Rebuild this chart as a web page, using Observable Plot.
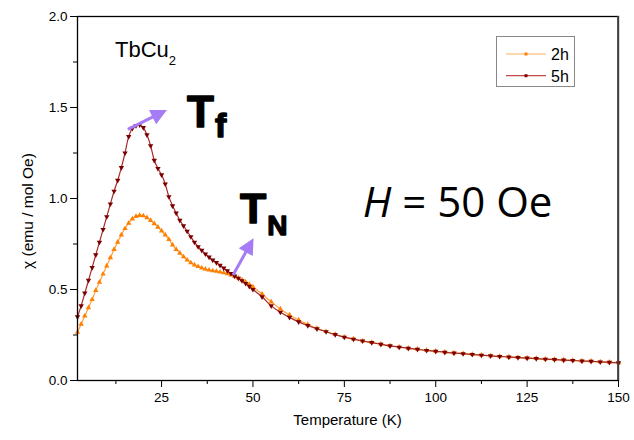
<!DOCTYPE html>
<html><head><meta charset="utf-8">
<script src="https://cdn.jsdelivr.net/npm/d3@7"></script>
<script src="https://cdn.jsdelivr.net/npm/@observablehq/plot@0.6"></script>
<style>
body{margin:0;background:#fff;}
#chart{width:634px;height:440px;}
</style></head><body><div id="chart"></div>
<script>
// Temperatures (K)
const temps = [2,3,4,5,6,7,8,9,10,11,12,13,14,15,16,17,18,19,20,21,22,23,24,25,26,27,28,29,30,31,32,33,34,35,36,37,38,39,40,41,42,43,44,45,46,47,48,49,50,
  52.5,55,57.5,60,62.5,65,67.5,70,72.5,75,77.5,80,82.5,85,87.5,90,92.5,95,97.5,100,102.5,105,107.5,110,112.5,115,117.5,120,122.5,125,127.5,130,132.5,135,137.5,140,142.5,145,147.5,150];
// chi (emu / mol Oe), 2h sample
const chi2h = [0.265,0.31,0.355,0.40,0.445,0.495,0.54,0.585,0.63,0.675,0.72,0.76,0.80,0.835,0.865,0.888,0.902,0.907,0.905,0.895,0.88,0.862,0.843,0.822,0.80,0.775,0.745,0.72,0.70,0.68,0.662,0.647,0.635,0.626,0.618,0.612,0.607,0.603,0.600,0.596,0.592,0.587,0.580,0.572,0.563,0.553,0.541,0.528,0.514,
  0.475,0.432,0.393,0.360,0.333,0.308,0.287,0.269,0.253,0.239,0.229,0.218,0.209,0.200,0.191,0.184,0.178,0.172,0.166,0.161,0.156,0.152,0.148,0.144,0.140,0.136,0.133,0.130,0.127,0.124,0.121,0.118,0.116,0.113,0.111,0.108,0.106,0.103,0.101,0.098];
// chi (emu / mol Oe), 5h sample
const chi5h = [0.35,0.41,0.48,0.55,0.62,0.69,0.76,0.83,0.90,0.97,1.04,1.10,1.17,1.25,1.34,1.385,1.40,1.405,1.39,1.35,1.29,1.21,1.165,1.13,1.08,1.01,0.96,0.92,0.88,0.85,0.82,0.79,0.76,0.735,0.715,0.695,0.678,0.662,0.648,0.633,0.618,0.603,0.588,0.574,0.562,0.548,0.533,0.517,0.50,
  0.46,0.41,0.375,0.347,0.322,0.302,0.284,0.268,0.252,0.238,0.227,0.217,0.208,0.199,0.190,0.183,0.177,0.171,0.165,0.160,0.155,0.151,0.147,0.143,0.139,0.135,0.132,0.129,0.126,0.123,0.120,0.117,0.115,0.112,0.110,0.107,0.105,0.102,0.100,0.097];

const xTicks = [25,50,75,100,125,150];
const xMinor = [12.5,37.5,62.5,87.5,112.5,137.5];
const yTicks = [0,0.5,1.0,1.5,2.0];
const yMinor = [0.25,0.75,1.25,1.75];
const seriesNames = ["2h","5h"];
const xLabel = "Temperature (K)";
const yLabel = "χ (emu / mol Oe)";

// annotation arrows (data coordinates)
const arrowStart = [[15.9,1.377],[44.7,0.577]];
const arrowEnd = [[26.6,1.484],[50.3,0.779]];

const d2 = temps.map((T,i)=>({T, chi: chi2h[i]}));
const d5 = temps.map((T,i)=>({T, chi: chi5h[i]}));

const plot = Plot.plot({
  width: 634, height: 440,
  marginLeft: 77, marginRight: 16, marginTop: 16, marginBottom: 60,
  style: {fontFamily: "'Liberation Sans', Arial, sans-serif", fontSize: "13.5px", color: "#000", background: "#fff"},
  x: {domain: [2,150]},
  y: {domain: [0,2]},
  marks: [
    Plot.line(d2, {x:"T", y:"chi", stroke:"#ffa040", strokeWidth:1.2, curve:"catmull-rom"}),
    Plot.dot(d2, {x:"T", y:"chi", symbol:"triangle", r:2, fill:"#ff8000", stroke:null}),
    Plot.line(d5, {x:"T", y:"chi", stroke:"#a82a2a", strokeWidth:1.2, curve:"catmull-rom"}),
    Plot.dot(d5, {x:"T", y:"chi", symbol:"triangle", r:2, fill:"#7a0000", stroke:null, rotate:180}),
    Plot.frame({stroke:"#000", strokeWidth:1.3}),
    Plot.axisX({ticks: xTicks, tickSize: 7, tickPadding: 5, label: null}),
    Plot.axisX({ticks: xMinor, tickSize: 4, tickFormat: () => "", label: null}),
    Plot.axisY({ticks: yTicks, tickSize: 7, tickPadding: 3, tickFormat: d3.format(".1f"), label: null}),
    Plot.axisY({ticks: yMinor, tickSize: 4, tickFormat: () => "", label: null})
  ]
});
document.getElementById("chart").appendChild(plot);

const sx = plot.scale("x"), sy = plot.scale("y");
const svg = d3.select(plot);
const purple = "#a57cf6";

// right frame edge drawn darker/thicker like the original
svg.append("line").attr("x1", sx.apply(150)).attr("x2", sx.apply(150))
  .attr("y1", sy.apply(2)).attr("y2", sy.apply(0)).attr("stroke", "#444").attr("stroke-width", 1.8);

// arrows
arrowStart.forEach((s,i) => {
  const e = arrowEnd[i];
  const x1 = sx.apply(s[0]), y1 = sy.apply(s[1]);
  const x2 = sx.apply(e[0]), y2 = sy.apply(e[1]);
  const len = Math.hypot(x2-x1, y2-y1);
  const ux = (x2-x1)/len, uy = (y2-y1)/len;
  const L = 16, W = 8;
  const bx = x2 - ux*L, by = y2 - uy*L;
  svg.append("line").attr("x1", x1).attr("y1", y1).attr("x2", bx+ux*2).attr("y2", by+uy*2)
    .attr("stroke", purple).attr("stroke-width", 3);
  svg.append("polygon").attr("points", [
    [x2,y2],[bx - uy*W, by + ux*W],[bx + uy*W, by - ux*W]].map(p=>p.join(",")).join(" "))
    .attr("fill", purple);
});

// text annotations
function addText(T, chi, parts, family, weight, heavy) {
  const t = svg.append("text").attr("x", sx.apply(T)).attr("y", sy.apply(chi))
    .attr("text-anchor", "start")
    .attr("font-family", family).attr("font-weight", weight).attr("fill", "#000");
  if (heavy) t.attr("stroke", "#000").attr("stroke-width", heavy).attr("stroke-linejoin", "round");
  parts.forEach(p => {
    const ts = t.append("tspan").text(p.text).attr("font-size", p.size);
    if (p.dy) ts.attr("dy", p.dy);
    if (p.dx) ts.attr("dx", p.dx);
    if (p.italic) ts.attr("font-style", "italic");
  });
}
addText(12.4, 1.773, [{text:"TbCu", size:22},{text:"2", size:13, dy:8}], "'Liberation Sans', Arial, sans-serif", "normal");
addText(32.1, 1.390, [{text:"T", size:44},{text:"f", size:34, dy:10, dx:1}], "'Liberation Sans', Arial, sans-serif", "bold", 1.4);
addText(46.6, 0.863, [{text:"T", size:43},{text:"N", size:28, dy:12, dx:1}], "'Liberation Sans', Arial, sans-serif", "bold", 1.4);
addText(80.2, 0.896, [{text:"H", size:42, italic:true},{text:" = 50 Oe", size:42}], "'Open Sans', 'DejaVu Sans', sans-serif", "normal");

// axis labels
svg.append("text").attr("x", (77+618)/2).attr("y", 425).attr("text-anchor","middle")
  .attr("font-size", 15).attr("font-family","'Liberation Sans', Arial, sans-serif").text(xLabel);
svg.append("text").attr("transform","translate(33,211) rotate(-90)").attr("text-anchor","middle")
  .attr("font-size", 15.5).attr("font-family","'Liberation Sans', Arial, sans-serif").text(yLabel);

// legend
const lg = svg.append("g").attr("font-family","'Liberation Sans', Arial, sans-serif").attr("text-anchor","start");
lg.append("rect").attr("x",496.5).attr("y",36.5).attr("width",78).attr("height",50)
  .attr("fill","#fff").attr("stroke","#888").attr("stroke-width",1);
const legendLine = ["#ffb060","#c04848"], legendDot = ["#ff8000","#8b0000"];
seriesNames.forEach((n,i) => {
  const y = 54 + i*21.7;
  lg.append("line").attr("x1",506).attr("x2",546).attr("y1",y).attr("y2",y)
    .attr("stroke",legendLine[i]).attr("stroke-width",1.2);
  lg.append("rect").attr("x",524.5).attr("y",y-1.5).attr("width",3).attr("height",3).attr("fill",legendDot[i]);
  lg.append("text").attr("x",551).attr("y",y+5.8).attr("font-size",16).text(n);
});
</script>
</body></html>
